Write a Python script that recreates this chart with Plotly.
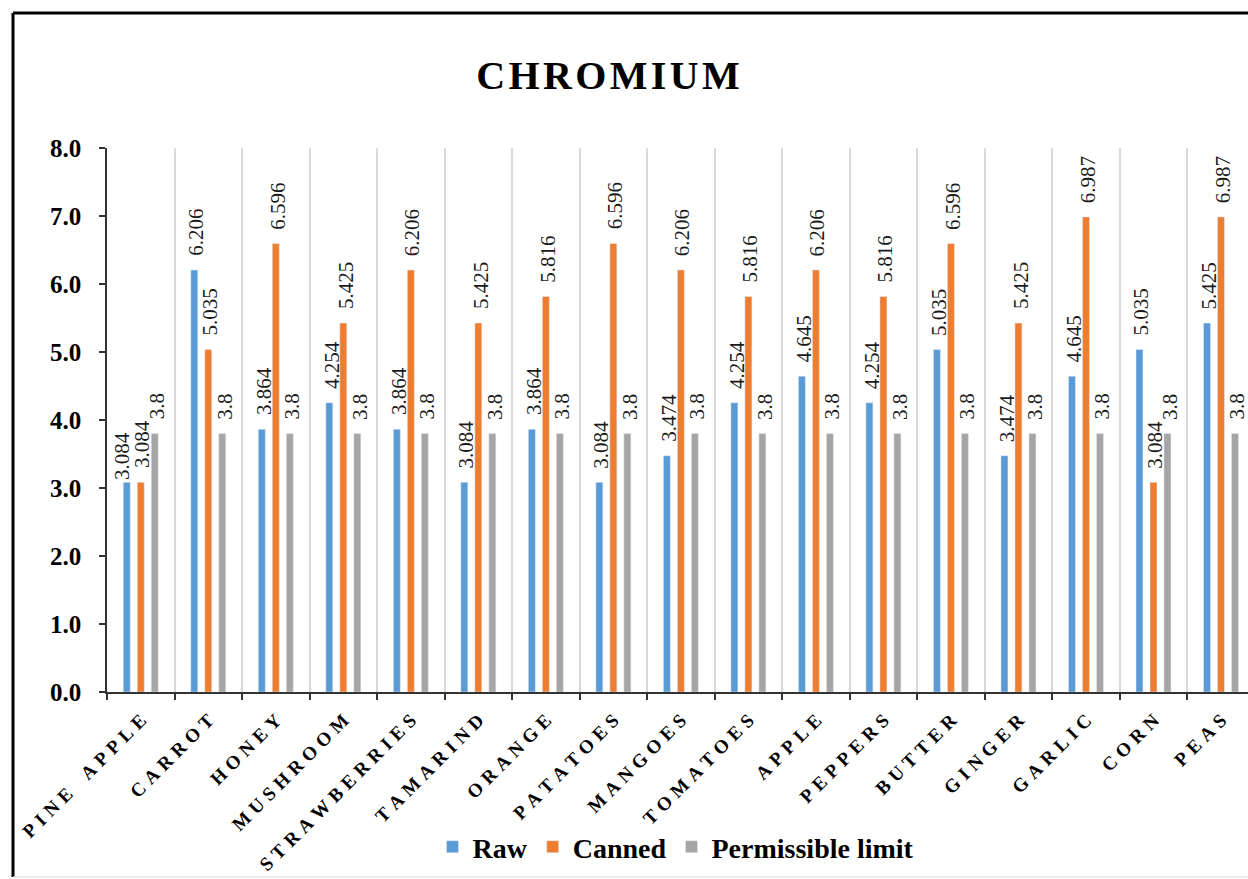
import plotly.graph_objects as go

categories = ["PINE APPLE", "CARROT", "HONEY", "MUSHROOM", "STRAWBERRIES", "TAMARIND",
              "ORANGE", "PATATOES", "MANGOES", "TOMATOES", "APPLE", "PEPPERS",
              "BUTTER", "GINGER", "GARLIC", "CORN", "PEAS"]
raw = [3.084, 6.206, 3.864, 4.254, 3.864, 3.084, 3.864, 3.084, 3.474, 4.254,
       4.645, 4.254, 5.035, 3.474, 4.645, 5.035, 5.425]
canned = [3.084, 5.035, 6.596, 5.425, 6.206, 5.425, 5.816, 6.596, 6.206, 5.816,
          6.206, 5.816, 6.596, 5.425, 6.987, 3.084, 6.987]
limit = [3.8] * len(categories)

series = [("Raw", raw, "#5B9BD5"), ("Canned", canned, "#ED7D31"),
          ("Permissible limit", limit, "#A5A5A5")]

SERIF = "Liberation Serif, Times New Roman, serif"


def spaced(text, gap="\u2009\u200a"):
    # spread letters apart like the category captions
    return gap.join(ch if ch != " " else "\u2002" for ch in text)


fig = go.Figure()
for name, vals, color in series:
    fig.add_trace(go.Bar(x=categories, y=vals, name=name, marker_color=color))

# plot area: 107..1248 px wide, 148..692 px tall
L, R, T, B = 107, 0, 148, 187
W, H = 1248, 879
pw, ph = W - L - R, H - T - B

# rotated value labels above each bar; horizontal shift follows the bar's slot in the group
group_shift = [-12, 2, 16]
# hand-nudged label (series, category) -> (dx, dy) so crowded labels do not collide
nudges = {("Raw", "PINE APPLE"): (-6, -12)}
for (name, vals, color), dx in zip(series, group_shift):
    for cat, v in zip(categories, vals):
        ndx, ndy = nudges.get((name, cat), (0, 0))
        fig.add_annotation(x=cat, y=v, xref="x", yref="y", text=f"{v:g}",
                           textangle=-90, showarrow=False,
                           xanchor="center", yanchor="bottom",
                           xshift=dx + ndx, yshift=13 + ndy, borderpad=0,
                           font=dict(family=SERIF, size=21, color="#1a1a1a"))

fig.update_layout(
    width=W, height=H,
    margin=dict(l=L, r=R, t=T, b=B, pad=0),
    paper_bgcolor="white", plot_bgcolor="white",
    barmode="group", bargap=0.378, bargroupgap=0.5,
    title=dict(text="\u200a".join("CHROMIUM"),
               font=dict(family=SERIF, size=40, color="black", weight="bold"),
               x=608 / W, xref="container", xanchor="center",
               y=1 - 75 / H, yref="container", yanchor="middle"),
    legend=dict(orientation="h", x=(676 - L) / pw, xanchor="center",
                y=(692 - 847) / ph, yanchor="middle",
                font=dict(family=SERIF, size=28, color="black", weight="bold"),
                itemwidth=30, tracegroupgap=0, bgcolor="rgba(0,0,0,0)"),
    font=dict(family=SERIF, color="black"),
)

fig.update_xaxes(
    type="category", range=[-0.5, 16.4],
    tickmode="array", tickvals=categories, ticktext=[spaced(c) for c in categories],
    tickangle=-45, tickfont=dict(family=SERIF, size=19, color="black", weight="bold"),
    ticklabelstandoff=8,
    tickson="boundaries", ticks="outside", ticklen=6, tickcolor="#333333", tickwidth=1.5,
    showline=True, linecolor="#333333", linewidth=1.5,
    showgrid=True, gridcolor="#D9D9D9", gridwidth=1.5,
)
fig.update_yaxes(
    range=[0, 8], dtick=1, tickformat=".1f",
    tickfont=dict(family=SERIF, size=25, color="black", weight="bold"),
    ticklabelstandoff=13,
    ticks="outside", ticklen=6, tickcolor="#333333", tickwidth=1.5,
    showline=True, linecolor="#333333", linewidth=1.5,
    showgrid=False, zeroline=False,
)

# chart frame (left and top edges visible, bottom faint)
fx0 = (13 - L) / pw
fy1 = (H - B - 13) / ph
fy0 = (H - B - 877) / ph
fig.add_shape(type="line", xref="paper", yref="paper", x0=fx0, x1=fx0, y0=fy0, y1=fy1,
              line=dict(color="black", width=3))
fig.add_shape(type="line", xref="paper", yref="paper", x0=fx0, x1=1.05, y0=fy1, y1=fy1,
              line=dict(color="black", width=3))
fig.add_shape(type="line", xref="paper", yref="paper", x0=fx0, x1=1.05, y0=fy0, y1=fy0,
              line=dict(color="#E6E6E6", width=1.5))

fig.write_html("out.html")
